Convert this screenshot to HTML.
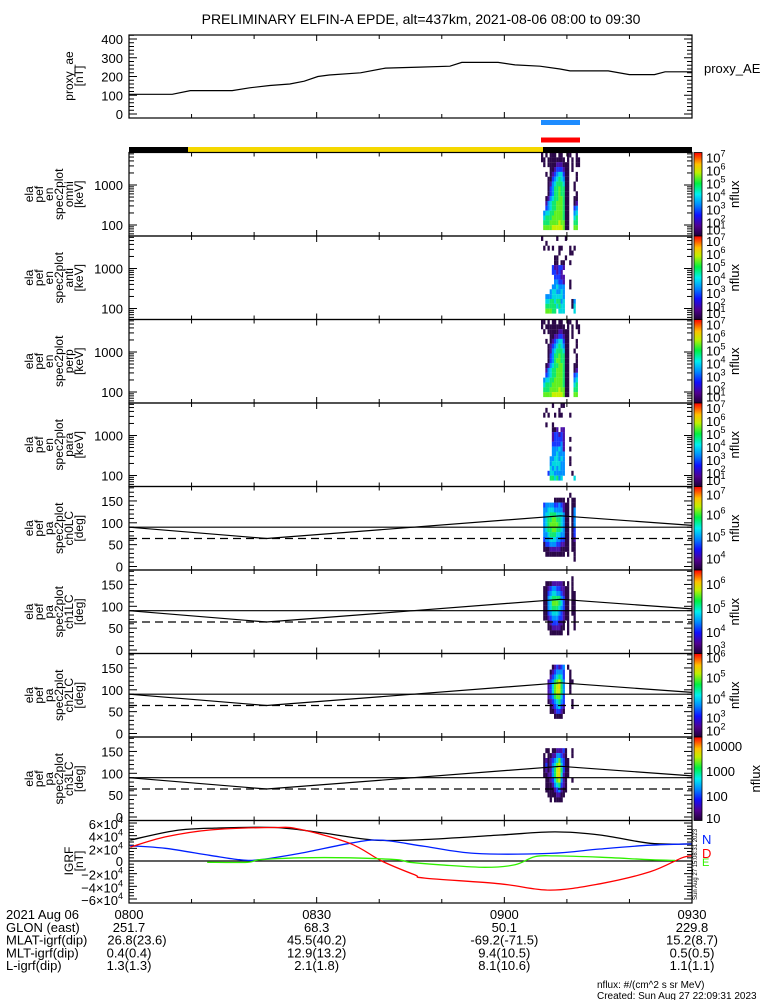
<!DOCTYPE html>
<html><head><meta charset="utf-8"><style>
html,body{margin:0;padding:0;background:#fff;}
svg{display:block;font-family:"Liberation Sans",sans-serif;}
</style></head><body>
<svg id="c" width="775" height="1000" viewBox="0 0 775 1000" xmlns="http://www.w3.org/2000/svg">
<rect width="775" height="1000" fill="#fff"/>
<text x="421" y="24" font-size="14" text-anchor="middle">PRELIMINARY ELFIN-A EPDE, alt=437km, 2021-08-06 08:00 to 09:30</text>
</svg>
<script>
// ---------- data ----------
const aeT=[0,6.9,9.8,16.5,19.3,22.5,25.7,28,30.2,32,37,41,46.5,51.3,53.2,59,61.7,65.7,68.9,70.5,76.6,80,84,85.7,90];
const aeV=[105,105,125,125,140,152,160,175,200,208,220,245,250,255,275,275,262,255,240,230,230,210,210,225,225];
const aeTicks=[0,100,200,300,400];
const lcT=[0,22,69,90];
const lcV=[90,64,116,94];
const dashPA=64;
const paTicks=[0,50,100,150];
const enTicks=[100,1000];
const igrfTicks=[6,4,2,0,-2,-4,-6];
const blackT=[0.2,7.4,13.7,23.3,30.5,39.3,47.3,59.3,68.1,75.3,83.3,90];
const blackV=[33,48,52,53,45,33,34,41,46,41,28,27];
const redT=[0.2,5.8,12.9,23.3,27.4,35.3,40.4,45.7,47.3,59.3,67.3,75.3,83.3,88.4,90];
const redV=[22,38,49,53,50,28,0,-22,-27,-36,-46,-36,-17,5,8];
const blueT=[0.2,5.8,12.9,17.7,20.9,27.3,35.3,40.1,47.3,55.3,67.3,75.3,83.3,90];
const blueV=[24,20,9,2,2,12,28,33,23,12,12,19,25,27];
const greenT=[12.5,18.9,20.9,27.3,35.3,42.8,44.9,49.7,56.9,61.7,64.9,68.1,75.3,83.3,87.3];
const greenV=[-2,-2,2,5,5,2,-2,-6,-10,-6,7,8,6,2,1];
const timeLabels=["0800","0830","0900","0930"];
const glon=["251.7","68.3","50.1","229.8"];
const mlat=["26.8(23.6)","45.5(40.2)","-69.2(-71.5)","15.2(8.7)"];
const mlt=["0.4(0.4)","12.9(13.2)","9.4(10.5)","0.5(0.5)"];
const lval=["1.3(1.3)","2.1(1.8)","8.1(10.6)","1.1(1.1)"];
const specOmni=["101011101100110010","110111111110101011","010111122211101011","000011233321101000","001012345531100010","000113456541100010","000124566651100100","000134667661100100","000134667661100010","001245667761100110","002456677761100120","003456677761100340","045566777761100450","056667777761100560","066677778771100660","077778888871100770"];
const specAnti=["100000010001000000","001000000000000000","010101001100010100","000000001000011000","000000110001000000","000000110110010000","000003223320000000","000003323200000000","000000333220000000","000000443320010000","000004454440010000","000045544540000000","004445555540000000","005566566450001400","006666656550001500","007776605550000500"];
const specPerp=["110101101100110010","101111111110101011","010111112211101001","000011223321101000","001012345531100010","000123456541100010","000124566651100100","000134667661100010","000134677661100010","001245667761100110","002456677761100120","003456677761100340","045566777761100450","056667777761100560","066677778771100660","077778888871100770"];
const specPara=["000001000110000000","001000001000000000","010100101100010000","000000000000000000","001001000000000000","000001120220000000","000002332320000000","000002333320010000","000003333420000000","000004445420010000","000004454440000000","000044554540010000","000045555440010000","000054545440000000","000355444440001000","000066564500000500"];
const pa0=["000000000000000000","000000000000010000","000000111110101100","034444334321101100","044555444421101400","045566655541101400","045667766541101400","045677776541101400","045667766541101300","044566655441101300","034455544331101200","013344433221101100","011122222111101100","001111111110100100","000000000000000100","000000000000000000"];
const pa1=["000000000000000000","000000000000001000","001112222210101000","011234433221101000","011345544321101100","011456666431101100","011457776531101100","011456665431101100","011345554321101100","011234443321100100","000123332210100100","000112222110100100","000011111100100000","000000000000000000","000000000000000000","000000000000000000"];
const pa2=["000000000000000000","000000000000000000","000001232340100000","000012344430010000","000023456530010000","000234678640011000","000235789640010000","000235788640010000","000234677530000000","000123456430001000","000012345320001000","000011233210000000","000000111100000000","000000000000000000","000000000000000000","000000000000000000"];
const pa3=["000000000000000000","000000000000000000","001101122231001000","010112244321001000","012123457431100000","013124578531100000","012124689631100000","011224689521100000","001123578421001000","001112456321000000","001111234211000000","000111122110000000","000010111100000000","000000000000000000","000000000000000000","000000000000000000"];

// ---------- layout ----------
const NS="http://www.w3.org/2000/svg";
const svg=document.getElementById('c');
const X0=129,X1=692;
function xT(t){return X0+t*(X1-X0)/90;}
const PH=83.5;
const tops=[152.5,236,319.5,403,486.5,570,653.5,737,820.5];
const cmap=["","#2a0848","#4a10a8","#1838ff","#0090ff","#00d8e0","#10e870","#60f020","#c8f000","#f0d800"];
function el(tag,attrs,parent){const e=document.createElementNS(NS,tag);for(const k in attrs)e.setAttribute(k,attrs[k]);(parent||svg).appendChild(e);return e;}
function txt(x,y,s,size,anchor,parent){const e=el('text',{x:x,y:y,'font-size':size||13,'text-anchor':anchor||'start'},parent);e.textContent=s;return e;}
function sup(x,y,base,exp,size,anchor,parent){const e=el('text',{x:x,y:y,'font-size':size||13,'text-anchor':anchor||'start'},parent);const a=document.createElementNS(NS,'tspan');a.textContent=base;e.appendChild(a);const b=document.createElementNS(NS,'tspan');b.setAttribute('dy','-6');b.setAttribute('font-size','9');b.textContent=exp;e.appendChild(b);return e;}
function timeTicks(top,bot,g){for(let m=0;m<=90;m+=10){const x=xT(m);const L=(m%30===0)?6:4;el('line',{x1:x,y1:top,x2:x,y2:top+L,stroke:'#000'},g);el('line',{x1:x,y1:bot,x2:x,y2:bot-L,stroke:'#000'},g);}}
function frame(top,bot,g){el('rect',{x:X0,y:top,width:X1-X0,height:bot-top,fill:'none',stroke:'#000','stroke-width':1.2},g);}
function ylab(lines,cy,g){const n=lines.length,sp=10,x0=33-(n-6)*sp/2;lines.forEach((s,i)=>{const x=x0+i*sp+(6-n)*sp/2;const t=el('text',{x:x,y:cy,'font-size':12,'text-anchor':'middle',transform:'rotate(-90 '+x+' '+cy+')'},g);t.textContent=s;});}
function pathFrom(T,V,xf,yf){return T.map((t,i)=>(i?'L':'M')+xf(t).toFixed(1)+','+yf(V[i]).toFixed(1)).join(' ');}
function smoothPath(T,V,xf,yf){const P=T.map((t,i)=>[xf(t),yf(V[i])]);let d='M'+P[0][0].toFixed(1)+','+P[0][1].toFixed(1);for(let i=0;i<P.length-1;i++){const p0=P[Math.max(0,i-1)],p1=P[i],p2=P[i+1],p3=P[Math.min(P.length-1,i+2)];const c1=[p1[0]+(p2[0]-p0[0])/6,p1[1]+(p2[1]-p0[1])/6],c2=[p2[0]-(p3[0]-p1[0])/6,p2[1]-(p3[1]-p1[1])/6];d+=' C'+c1.map(v=>v.toFixed(1))+' '+c2.map(v=>v.toFixed(1))+' '+p2[0].toFixed(1)+','+p2[1].toFixed(1);}return d;}

// ---------- top AE panel ----------
{
const g=el('g',{});
const top=35,bot=118,yA=v=>114-v*0.1875;
for(let v=0;v<=420;v+=20){const y=yA(v);if(y<top)continue;const L=v%100===0?8:5;el('line',{x1:X0,y1:y,x2:X0+L,y2:y,stroke:'#000'},g);el('line',{x1:X1,y1:y,x2:X1-L,y2:y,stroke:'#000'},g);}
aeTicks.forEach(v=>{const t=txt(123,yA(v)+5,String(v),13,'end',g);});
timeTicks(top,bot,g);frame(top,bot,g);
const p=el('path',{d:pathFrom(aeT,aeV,xT,yA),fill:'none',stroke:'#000','stroke-width':1.2},g);

ylab(['proxy_ae','[nT]'],76,g);
const l=txt(704,73,'proxy_AE',13,'start',g);
}
// bars
{
const b1=el('rect',{x:541,y:120,width:39,height:5,fill:'#1e8cff'});
const b2=el('rect',{x:541,y:137.5,width:39,height:5,fill:'#ff0000'});
const k1=el('rect',{x:X0,y:147,width:59,height:5.5,fill:'#000'});
const y1=el('rect',{x:188,y:147,width:355,height:5.5,fill:'#f5d800'});
const k2=el('rect',{x:543,y:147,width:149,height:5.5,fill:'#000'});
}

// ---------- spectrogram panels ----------
const specs=[specOmni,specAnti,specPerp,specPara,pa0,pa1,pa2,pa3];
const specNames=['omni','anti','perp','para','ch0LC','ch1LC','ch2LC','ch3LC'];
const cbLabels=[
 [["10","7",5],["10","6",18],["10","5",31],["10","4",44],["10","3",57],["10","2",70],["10","1",77]],
 [["10","7",5],["10","6",18],["10","5",31],["10","4",44],["10","3",57],["10","2",70],["10","1",77]],
 [["10","7",5],["10","6",18],["10","5",31],["10","4",44],["10","3",57],["10","2",70],["10","1",77]],
 [["10","7",5],["10","6",18],["10","5",31],["10","4",44],["10","3",57],["10","2",70],["10","1",77]],
 [["10","7",8],["10","6",28],["10","5",50],["10","4",72]],
 [["10","6",14],["10","5",38],["10","4",62],["10","3",79]],
 [["10","6",4],["10","5",24],["10","4",45],["10","3",64],["10","2",77]],
 [["10000","",9],["1000","",34],["100","",59],["10","",81]]
];
specs.forEach((mat,pi)=>{
 const top=tops[pi],bot=top+PH;
 const g=el('g',{});
 const isPA=pi>=4;
 const nC=mat[0].length,nR=mat.length,cx0=541,cw=39/nC;
 const yPA=d=>bot-3.5-d*0.437;
 mat.forEach((row,r)=>{
   let ya,yb;
   if(isPA){ya=yPA(180-r*11.25);yb=yPA(180-(r+1)*11.25);}else{ya=top+r*(PH-6)/nR;yb=ya+(PH-6)/nR;}
   for(let c=0;c<nC;c++){const v=+row[c];if(!v)continue;
     const cell=el('rect',{x:(cx0+c*cw).toFixed(2),y:ya.toFixed(2),width:(cw+0.1).toFixed(2),height:(yb-ya+0.1).toFixed(2),fill:cmap[v]},g);
     }
 });
 timeTicks(top,bot,g);
 if(isPA){
   for(let d=0;d<=180;d+=10){const y=yPA(d);if(y<top)continue;const L=d%50===0?8:5;el('line',{x1:X0,y1:y,x2:X0+L,y2:y,stroke:'#000'},g);el('line',{x1:X1,y1:y,x2:X1-L,y2:y,stroke:'#000'},g);}
   paTicks.forEach(d=>{const t=txt(123,yPA(d)+5,String(d),13,'end',g);});
   const h=el('line',{x1:X0,y1:yPA(90),x2:X1,y2:yPA(90),stroke:'#000','stroke-width':1.2},g);
   const dl=el('line',{x1:X0,y1:yPA(dashPA),x2:X1,y2:yPA(dashPA),stroke:'#000','stroke-width':1.2,'stroke-dasharray':'8,5'},g);
   const lc=el('path',{d:pathFrom(lcT,lcV,xT,yPA),fill:'none',stroke:'#000','stroke-width':1.2},g);
   ylab(['ela','pef','pa','spec2plot',specNames[pi],'[deg]'],top+PH/2,g);
 } else {
   const yE=e=>top+72.5-40*Math.log10(e/100);
   [10,100,1000].forEach(dec=>{for(let k=1;k<10;k++){const y=yE(dec*k);if(y<top||y>bot)continue;const L=k===1?8:5;el('line',{x1:X0,y1:y,x2:X0+L,y2:y,stroke:'#000'},g);el('line',{x1:X1,y1:y,x2:X1-L,y2:y,stroke:'#000'},g);}});
   enTicks.forEach(e=>{const t=txt(123,yE(e)+5,String(e),13,'end',g);});
   ylab(['ela','pef','en','spec2plot',specNames[pi],'[keV]'],top+PH/2,g);
 }
 frame(top,bot,g);
 const cb=el('g',{});
 el('rect',{x:694,y:top,width:8,height:PH,fill:'url(#cbg)',stroke:'#000','stroke-width':0.8},cb);
 cbLabels[pi].forEach(l=>{const t=l[1]?sup(706,top+l[2]+5,l[0],l[1],13,'start',cb):txt(706,top+l[2]+5,l[0],13,'start',cb);});
 const cx=pi===7?760:739,cy=top+PH/2;
 const nf=el('text',{x:cx,y:cy,'font-size':13,'text-anchor':'middle',transform:'rotate(-90 '+cx+' '+cy+')'},cb);nf.textContent='nflux';
 
});
{
const defs=el('defs',{});const lg=el('linearGradient',{id:'cbg',x1:0,y1:1,x2:0,y2:0},defs);
[["0","#200038"],["0.12","#500090"],["0.25","#1010ff"],["0.38","#0090ff"],["0.5","#00f0f0"],["0.63","#00f040"],["0.76","#c0f000"],["0.86","#ffc000"],["1","#ff0000"]].forEach(s=>el('stop',{offset:s[0],'stop-color':s[1]},lg));
}

// ---------- IGRF panel ----------
{
const top=820.5,bot=903,g=el('g',{});
const yK=v=>861-v*0.633;
for(let v=-60;v<=60;v+=5){const y=yK(v);const L=v%20===0?8:5;el('line',{x1:X0,y1:y,x2:X0+L,y2:y,stroke:'#000'},g);el('line',{x1:X1,y1:y,x2:X1-L,y2:y,stroke:'#000'},g);}
igrfTicks.forEach(k=>{const y=yK(k*10)+5;const t=k===0?txt(123,y,'0',13,'end',g):sup(123,y+1,(k<0?'\u2212':'')+Math.abs(k)+'\u00d710','4',13,'end',g);});
el('line',{x1:X0,y1:yK(0),x2:X1,y2:yK(0),stroke:'#000','stroke-width':1.2},g);
timeTicks(top,bot,g);
[[blackT,blackV,'#000','igrf-total'],[blueT,blueV,'#0020ff','igrf-n'],[redT,redV,'#ff0000','igrf-d'],[greenT,greenV,'#30f000','igrf-e']].forEach(s=>{const p=el('path',{d:smoothPath(s[0],s[1],xT,yK),fill:'none',stroke:s[2],'stroke-width':1.3},g);});
frame(top,bot,g);
ylab(['IGRF','[nT]'],861,g);
const n=txt(702,844,'N',13,'start',g);n.setAttribute('fill','#0020ff');
const d=txt(702,858,'D',13,'start',g);d.setAttribute('fill','#ff0000');
const e=txt(702,866,'E',11,'start',g);e.setAttribute('fill','#30f000');
const st=el('text',{x:697,y:900,'font-size':6,transform:'rotate(-90 697 900)'},g);st.textContent='Sun Aug 27 15:08:31 2023';
}

// ---------- bottom annotation ----------
{
const g=el('g',{});
const rows=[["2021 Aug 06",timeLabels],["GLON (east)",glon],["MLAT-igrf(dip)",mlat],["MLT-igrf(dip)",mlt],["L-igrf(dip)",lval]];
const xs=[0,30,60,90].map(xT);
rows.forEach((r,i)=>{const y=919+i*12.8;txt(6,y,r[0],13,'start',g);r[1].forEach((s,j)=>{const t=txt(xs[j]+(i===2&&j===0?8:0),y,s,13,'middle',g);});});
txt(597,988,'nflux: #/(cm^2 s sr MeV)',10,'start',g);
txt(597,999,'Created: Sun Aug 27 22:09:31 2023',10,'start',g);
}
</script>
</body></html>
